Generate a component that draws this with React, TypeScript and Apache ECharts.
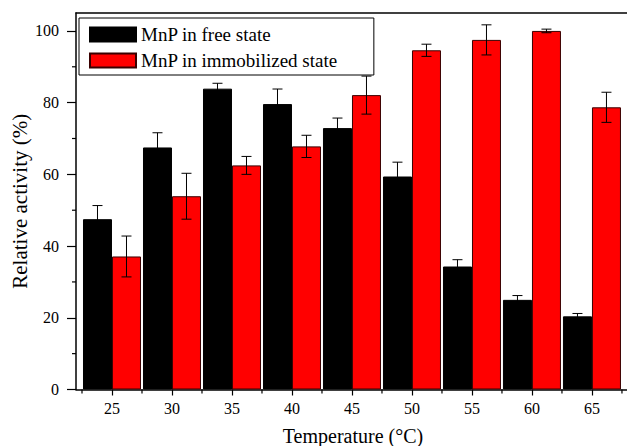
import React, { useEffect, useRef } from "react";
import * as echarts from "echarts";

const temperatures = [25, 30, 35, 40, 45, 50, 55, 60, 65];
const freeActivity = [47.5, 67.5, 83.9, 79.6, 72.9, 59.4, 34.3, 25.0, 20.4];
const freeError = [3.8, 4.1, 1.5, 4.2, 2.8, 4.0, 1.9, 1.2, 0.8];
const immobilizedActivity = [37.1, 53.9, 62.5, 67.8, 82.1, 94.6, 97.5, 100.0, 78.7];
const immobilizedError = [5.7, 6.4, 2.5, 3.1, 5.3, 1.7, 4.2, 0.5, 4.2];
const xMajorTicks = [25, 30, 35, 40, 45, 50, 55, 60, 65];
const xMinorTicks = [22.5, 27.5, 32.5, 37.5, 42.5, 47.5, 52.5, 57.5, 62.5, 67.5];
const yMajorTicks = [0, 20, 40, 60, 80, 100];
const yMinorTicks = [10, 30, 50, 70, 90];

const FONT = "Liberation Serif";
const BAR_W = 29;
const X_MIN = 22;
const X_MAX = 68.17;

export default function App() {
  const ref = useRef<HTMLDivElement>(null);
  useEffect(() => {
    if (!ref.current) return;
    const chart = echarts.init(ref.current, null, { renderer: "svg" });

    const errData: number[][] = [];
    temperatures.forEach((t, i) => {
      errData.push([t, freeActivity[i], freeError[i], -1]);
      errData.push([t, immobilizedActivity[i], immobilizedError[i], 1]);
    });

    const minorTickData: number[][] = [
      ...xMinorTicks.map((v) => [v, 0]),
      ...yMinorTicks.map((v) => [v, 1]),
    ];

    chart.setOption({
      animation: false,
      backgroundColor: "#fff",
      textStyle: { fontFamily: FONT },
      grid: {
        left: 76,
        top: 13,
        right: -3,
        bottom: 56.5,
        show: false,
        containLabel: false,
        outerBoundsMode: "none",
      },
      graphic: [
        {
          type: "rect",
          right: 0,
          top: 15,
          z: 100,
          silent: true,
          shape: { width: 3.5, height: 373 },
          style: { fill: "#fff" },
        },
      ],
      legend: {
        orient: "vertical",
        left: 79,
        top: 18,
        padding: [7, 36, 5, 10],
        itemGap: 7,
        itemWidth: 46,
        itemHeight: 14,
        icon: "rect",
        borderColor: "#000",
        borderWidth: 1,
        backgroundColor: "#fff",
        textStyle: { fontSize: 19, fontFamily: FONT, color: "#000" },
        data: ["MnP in free state", "MnP in immobilized state"],
      },
      xAxis: [
        {
          type: "value",
          min: X_MIN,
          max: X_MAX,
          position: "bottom",
          splitLine: { show: false },
          name: "Temperature (°C)",
          nameLocation: "middle",
          nameGap: 36,
          nameTextStyle: { fontSize: 20, fontFamily: FONT, color: "#000" },
          axisLine: { show: true, onZero: false, lineStyle: { color: "#000", width: 1.5 } },
          axisTick: {
            show: true,
            inside: false,
            length: 6,
            customValues: xMajorTicks,
            lineStyle: { color: "#000", width: 1.2 },
          },
          axisLabel: {
            show: true,
            customValues: xMajorTicks,
            margin: 11,
            fontSize: 16,
            fontFamily: FONT,
            color: "#000",
          },
        },
        {
          type: "value",
          min: X_MIN,
          max: X_MAX,
          position: "top",
          splitLine: { show: false },
          axisLine: { show: true, onZero: false, lineStyle: { color: "#000", width: 1.5 } },
          axisTick: { show: false },
          axisLabel: { show: false },
        },
      ],
      yAxis: [
        {
          type: "value",
          min: 0,
          max: 105,
          position: "left",
          splitLine: { show: false },
          name: "Relative activity (%)",
          nameLocation: "middle",
          nameGap: 46,
          nameMoveOverlap: false,
          nameTextStyle: { fontSize: 21, fontFamily: FONT, color: "#000" },
          axisLine: { show: true, onZero: false, lineStyle: { color: "#000", width: 1.5 } },
          axisTick: {
            show: true,
            inside: false,
            length: 9,
            customValues: yMajorTicks,
            lineStyle: { color: "#000", width: 1.2 },
          },
          axisLabel: {
            show: true,
            customValues: yMajorTicks,
            margin: 17,
            fontSize: 16,
            fontFamily: FONT,
            color: "#000",
          },
        },
      ],
      series: [
        {
          name: "MnP in free state",
          type: "bar",
          xAxisIndex: 0,
          yAxisIndex: 0,
          barWidth: BAR_W,
          barGap: "0%",
          itemStyle: { color: "#000", borderColor: "#000", borderWidth: 1 },
          data: temperatures.map((t, i) => [t, freeActivity[i]]),
        },
        {
          name: "MnP in immobilized state",
          type: "bar",
          xAxisIndex: 0,
          yAxisIndex: 0,
          barWidth: BAR_W,
          barGap: "0%",
          itemStyle: { color: "#ff0000", borderColor: "#3a0000", borderWidth: 1 },
          data: temperatures.map((t, i) => [t, immobilizedActivity[i]]),
        },
        {
          type: "custom",
          xAxisIndex: 0,
          yAxisIndex: 0,
          z: 10,
          silent: true,
          data: errData,
          renderItem: (params: any, api: any) => {
            const x = api.value(0);
            const y = api.value(1);
            const e = api.value(2);
            const side = api.value(3);
            const top = api.coord([x, y + e]);
            const bot = api.coord([x, y - e]);
            const cx = top[0] + (side * BAR_W) / 2;
            const cap = 5;
            const style = { stroke: "#000", lineWidth: 1 };
            return {
              type: "group",
              children: [
                { type: "line", shape: { x1: cx, y1: top[1], x2: cx, y2: bot[1] }, style },
                { type: "line", shape: { x1: cx - cap, y1: top[1], x2: cx + cap, y2: top[1] }, style },
                { type: "line", shape: { x1: cx - cap, y1: bot[1], x2: cx + cap, y2: bot[1] }, style },
              ],
            };
          },
        },
        {
          type: "custom",
          xAxisIndex: 0,
          yAxisIndex: 0,
          z: 10,
          silent: true,
          clip: false,
          encode: { x: -1, y: -1 },
          data: minorTickData,
          renderItem: (params: any, api: any) => {
            const v = api.value(0);
            const isY = api.value(1) === 1;
            const cs = params.coordSys;
            const style = { stroke: "#000", lineWidth: 1.2 };
            if (isY) {
              const p = api.coord([X_MIN, v]);
              return { type: "line", shape: { x1: cs.x, y1: p[1], x2: cs.x - 4, y2: p[1] }, style };
            }
            const p = api.coord([v, 0]);
            const by = cs.y + cs.height;
            return { type: "line", shape: { x1: p[0], y1: by, x2: p[0], y2: by + 4 }, style };
          },
        },
      ],
    });
    return () => chart.dispose();
  }, []);
  return <div ref={ref} style={{ width: 627, height: 446, position: "absolute", left: 0, top: 0 }} />;
}
